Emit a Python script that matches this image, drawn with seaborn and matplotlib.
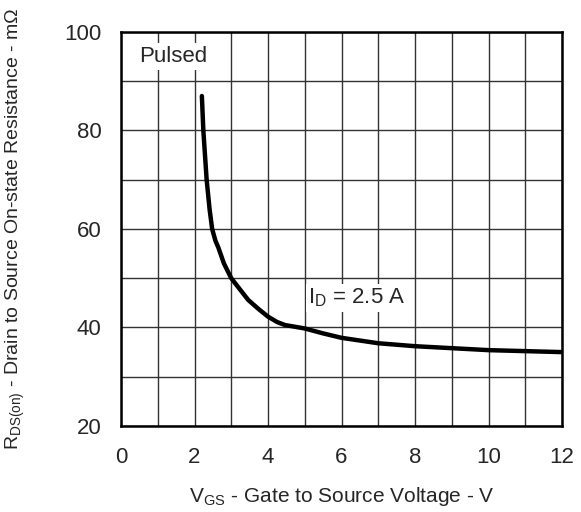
import numpy as np
import pandas as pd
import matplotlib
matplotlib.use("Agg")
import matplotlib.pyplot as plt
from matplotlib.ticker import MultipleLocator
import seaborn as sns

# RDS(on) vs VGS, ID = 2.5 A
vgs = [2.2, 2.24, 2.33, 2.41, 2.48, 2.57, 2.65, 2.8, 3.0, 3.25, 3.46, 3.75, 4.0, 4.25, 4.46,
       5.0, 5.5, 6.0, 7.0, 8.0, 9.0, 10.0, 11.0, 12.0]
rds = [87.0, 80.0, 70.0, 64.0, 60.0, 57.6, 56.2, 53.0, 50.0, 47.6, 45.6, 43.7, 42.2, 41.1, 40.5,
       39.8, 38.8, 37.9, 36.8, 36.2, 35.8, 35.4, 35.2, 35.0]

x_ticks = [0, 2, 4, 6, 8, 10, 12]
y_ticks = [20, 40, 60, 80, 100]

sns.set_style("white")
plt.rcParams["font.family"] = ["Liberation Sans", "DejaVu Sans"]
plt.rcParams["mathtext.fontset"] = "custom"
plt.rcParams["mathtext.rm"] = "Liberation Sans"

df = pd.DataFrame({"vgs": vgs, "rds": rds})

fig = plt.figure(figsize=(5.81, 5.12), dpi=100)
ax = fig.add_axes([0.2083, 0.168, 0.759, 0.7695])

sns.lineplot(data=df, x="vgs", y="rds", ax=ax, color="black", linewidth=3.2, sort=False)

ax.set_xlim(0, 12)
ax.set_ylim(20, 100)
ax.set_xticks(x_ticks)
ax.set_yticks(y_ticks)
ax.xaxis.set_minor_locator(MultipleLocator(1))
ax.yaxis.set_minor_locator(MultipleLocator(10))
ax.grid(True, which="both", color="#333333", linewidth=1.0)
ax.tick_params(which="both", length=0, labelsize=16)
ax.tick_params(axis="x", pad=15)
ax.tick_params(axis="y", pad=14)
for s in ax.spines.values():
    s.set_color("black")
    s.set_linewidth(1.8)

ax.set_xlabel(r"V$_{\mathrm{GS}}$ - Gate to Source Voltage - V", fontsize=15, va="center")
ax.set_ylabel(r"R$_{\mathrm{DS(on)}}$ - Drain to Source On-state Resistance - m$\Omega$",
              fontsize=14, va="center")
ax.xaxis.set_label_coords(0.5, -0.180)
ax.yaxis.set_label_coords(-0.240, 0.5)

box = dict(facecolor="white", edgecolor="none", pad=2)
ax.text(0.5, 95, "Pulsed", fontsize=16, ha="left", va="center", bbox=box)
ax.text(5.1, 46, r"I$_{\mathrm{D}}$ = 2.5 A", fontsize=16, ha="left", va="center", bbox=box)

fig.savefig("out.png", dpi=100)
